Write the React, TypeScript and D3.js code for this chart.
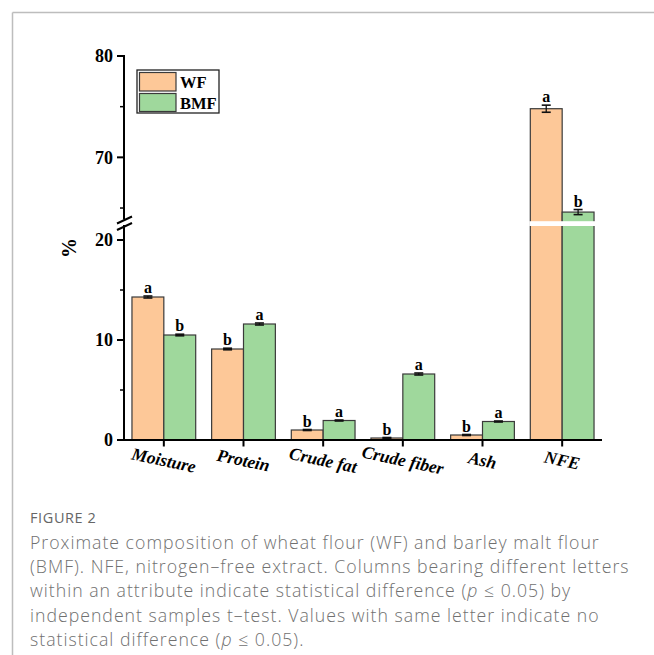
import React from 'react';
import * as d3 from 'd3';

const categories = ['Moisture', 'Protein', 'Crude fat', 'Crude fiber', 'Ash', 'NFE'];
const wfValues = [14.3, 9.1, 1.0, 0.2, 0.5, 74.8];
const bmfValues = [10.5, 11.6, 1.95, 6.6, 1.85, 64.6];
const wfErrors = [0.1, 0.08, 0.05, 0.05, 0.05, 0.35];
const bmfErrors = [0.08, 0.1, 0.05, 0.1, 0.05, 0.25];
const wfLetters = ['a', 'b', 'b', 'b', 'b', 'a'];
const bmfLetters = ['b', 'a', 'a', 'a', 'a', 'b'];

const lowerTicks = [0, 10, 20];
const lowerMinor = [5, 15];
const upperTicks = [70, 80];
const upperMinor = [65, 75];

const captionTitle = 'FIGURE 2';
// each line is split round the italic "p"
const captionLines: string[][] = [
  ['Proximate composition of wheat flour (WF) and barley malt flour'],
  ['(BMF). NFE, nitrogen\u2013free extract. Columns bearing different letters'],
  ['within an attribute indicate statistical difference (', 'p', ' \u2264 0.05) by'],
  ['independent samples t\u2013test. Values with same letter indicate no'],
  ['statistical difference (', 'p', ' \u2264 0.05).'],
];

const WF_COLOR = '#fdc898';
const BMF_COLOR = '#9fd89c';
const SERIF = '"Liberation Serif", "Times New Roman", serif';
const SANS = '"Open Sans", sans-serif';

const App: React.FC = () => {
  const width = 654;
  const height = 655;

  const x = d3.scaleBand<string>().domain(categories).range([124, 602]);
  // broken axis: lower segment 0..21.4, upper segment 63.7..80
  const lowMax = 21.4;
  const highMin = 63.7;
  const yLow = d3.scaleLinear().domain([0, lowMax]).range([440, 226]);
  const yHigh = d3.scaleLinear().domain([highMin, 80]).range([221.2, 56]);
  const y = (v: number) => (v <= lowMax ? yLow(v) : yHigh(v));

  const bw = x.bandwidth() * 0.4;
  const axisX = 124;

  const series = [
    { values: wfValues, errors: wfErrors, letters: wfLetters, color: WF_COLOR, offset: -bw },
    { values: bmfValues, errors: bmfErrors, letters: bmfLetters, color: BMF_COLOR, offset: 0 },
  ];

  const majors = [...lowerTicks.map((t) => yLow(t)), ...upperTicks.map((t) => yHigh(t))];
  const majorLabels = [...lowerTicks, ...upperTicks];
  const minors = [...lowerMinor.map((t) => yLow(t)), ...upperMinor.map((t) => yHigh(t))];

  return (
    <div style={{ position: 'absolute', left: 0, top: 0 }}>
      <svg width={width} height={height} style={{ display: 'block', background: '#fff' }}>
        {/* frame */}
        <line x1={12.5} x2={654} y1={12.5} y2={12.5} stroke="#bdbdbd" strokeWidth={1.5} />
        <line x1={12.5} x2={12.5} y1={12.5} y2={655} stroke="#bdbdbd" strokeWidth={1.5} />

        {/* bars */}
        {series.map((s, si) =>
          categories.map((c, i) => {
            const cx = (x(c) as number) + x.bandwidth() / 2;
            const v = s.values[i];
            const e = s.errors[i];
            const bx = cx + s.offset;
            const top = y(v);
            const eTop = y(v + e);
            const eBot = y(v - e);
            return (
              <g key={`${si}-${c}`}>
                <rect x={bx} y={top} width={bw} height={440 - top} fill={s.color} stroke="#3a3a3a" strokeWidth={1.2} />
                <line x1={bx + bw / 2} x2={bx + bw / 2} y1={eTop} y2={eBot} stroke="#111" strokeWidth={1.3} />
                <line x1={bx + bw / 2 - 4.5} x2={bx + bw / 2 + 4.5} y1={eTop} y2={eTop} stroke="#111" strokeWidth={1.6} />
                <line x1={bx + bw / 2 - 4.5} x2={bx + bw / 2 + 4.5} y1={eBot} y2={eBot} stroke="#111" strokeWidth={1.6} />
                <text x={bx + bw / 2} y={eTop - 3} textAnchor="middle" fontFamily={SERIF} fontWeight="bold" fontSize={16}>
                  {s.letters[i]}
                </text>
              </g>
            );
          })
        )}

        {/* white gap across the broken bars */}
        <rect x={(x('NFE') as number) + x.bandwidth() / 2 - bw - 1} y={yHigh(highMin)} width={bw * 2 + 2} height={yLow(lowMax) - yHigh(highMin)} fill="#fff" />

        {/* y axis */}
        <line x1={axisX} x2={axisX} y1={441} y2={225} stroke="#000" strokeWidth={2} />
        <line x1={axisX} x2={axisX} y1={219.5} y2={55} stroke="#000" strokeWidth={2} />
        <line x1={axisX - 7} x2={axisX + 8} y1={223.5} y2={216.5} stroke="#000" strokeWidth={2} />
        <line x1={axisX - 7} x2={axisX + 8} y1={230} y2={223} stroke="#000" strokeWidth={2} />
        {majors.map((ty, i) => (
          <g key={`maj-${i}`}>
            <line x1={axisX - 7} x2={axisX} y1={ty} y2={ty} stroke="#000" strokeWidth={2} />
            <text x={axisX - 11} y={ty} dy="0.35em" textAnchor="end" fontFamily={SERIF} fontWeight="bold" fontSize={18}>
              {majorLabels[i]}
            </text>
          </g>
        ))}
        {minors.map((ty, i) => (
          <line key={`min-${i}`} x1={axisX - 4} x2={axisX} y1={ty} y2={ty} stroke="#000" strokeWidth={1.5} />
        ))}
        <text transform="translate(76,248) rotate(-90)" textAnchor="middle" fontFamily={SERIF} fontWeight="bold" fontSize={20}>
          %
        </text>

        {/* x axis */}
        <line x1={axisX - 1} x2={602} y1={440} y2={440} stroke="#000" strokeWidth={2} />
        {categories.map((c) => {
          const cx = (x(c) as number) + x.bandwidth() / 2;
          return (
            <g key={`xt-${c}`}>
              <line x1={cx} x2={cx} y1={440} y2={446.5} stroke="#000" strokeWidth={2} />
              <text
                transform={`translate(${cx},${460}) rotate(12)`}
                dy="0.35em"
                textAnchor="middle"
                fontFamily={SERIF}
                fontWeight="bold"
                fontStyle="italic"
                fontSize={17.5}
              >
                {c}
              </text>
            </g>
          );
        })}

        {/* legend */}
        <rect x={137} y={70} width={82} height={43} fill="#fff" stroke="#222" strokeWidth={1.3} />
        <rect x={139.5} y={72.5} width={36.5} height={18.5} fill={WF_COLOR} stroke="#3a3a3a" strokeWidth={1.2} />
        <rect x={139.5} y={93.5} width={36.5} height={18} fill={BMF_COLOR} stroke="#3a3a3a" strokeWidth={1.2} />
        <text x={180} y={87.5} fontFamily={SERIF} fontWeight="bold" fontSize={16.5}>WF</text>
        <text x={180} y={108.5} fontFamily={SERIF} fontWeight="bold" fontSize={16.5}>BMF</text>

        {/* caption */}
        <text x={30} y={523} fontFamily={SANS} fontSize={14.5} fill="#666" letterSpacing={0.6}>
          {captionTitle}
        </text>
        {captionLines.map((parts, i) => (
          <text key={i} x={30} y={549 + i * 24.2} fontFamily={SANS} fontSize={17.7} fontWeight={300} fill="#707070" letterSpacing={1.0}>
            {parts.map((p, j) => (
              <tspan key={j} fontStyle={j === 1 ? 'italic' : 'normal'}>
                {p}
              </tspan>
            ))}
          </text>
        ))}
      </svg>
    </div>
  );
};

export default App;
